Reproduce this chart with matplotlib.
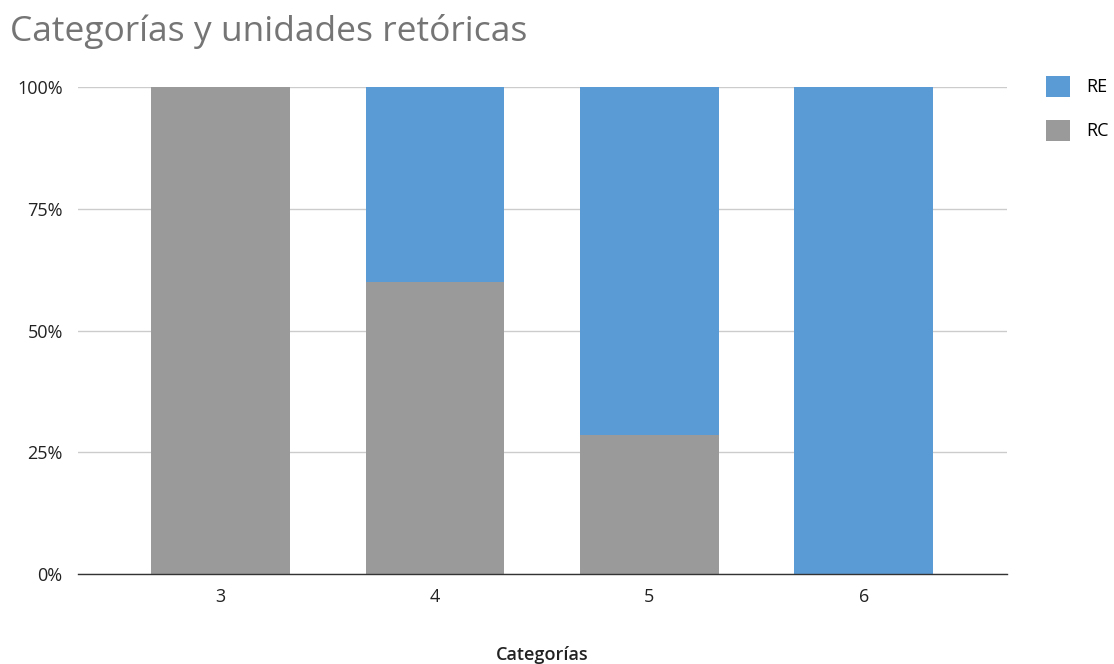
import matplotlib.pyplot as plt

plt.rcParams['font.family'] = ['Open Sans', 'DejaVu Sans']

categories = ['3', '4', '5', '6']
rc_values = [100.0, 60.0, 28.57, 0.0]
re_values = [0.0, 40.0, 71.43, 100.0]

blue = '#5b9bd5'
grey = '#9a9a9a'

fig = plt.figure(figsize=(11.14, 6.64), dpi=100)
ax = fig.add_axes([0.070, 0.1355, 0.834, 0.7335])

x = range(len(categories))
ax.bar(x, rc_values, width=0.648, color=grey, label='RC', zorder=3)
ax.bar(x, re_values, width=0.648, bottom=rc_values, color=blue, label='RE', zorder=3)

ax.set_xlim(-0.665, 3.668)
ax.set_ylim(0, 100)
ax.set_yticks([0, 25, 50, 75, 100])
ax.set_yticklabels(['0%', '25%', '50%', '75%', '100%'])
ax.set_xticks(list(x))
ax.set_xticklabels(categories)
ax.tick_params(axis='both', length=0, labelsize=13, colors='#222222')
ax.tick_params(axis='y', pad=11)
ax.tick_params(axis='x', pad=10)

ax.grid(axis='y', color='#cccccc', linewidth=1, zorder=0)
for side in ['top', 'right', 'left']:
    ax.spines[side].set_visible(False)
ax.spines['bottom'].set_color('#333333')
ax.spines['bottom'].set_linewidth(1)
ax.spines['bottom'].set_zorder(4)

# axis title sits near the bottom edge
fig.text(0.487, 0.013, 'Categorías', fontsize=13, fontweight='semibold', color='#222222',
         ha='center', va='center')

fig.text(0.009, 0.953, 'Categorías y unidades retóricas', fontsize=25.5, color='#757575',
         va='center', ha='left')

handles, labels = ax.get_legend_handles_labels()
leg = fig.legend(handles[::-1], labels[::-1], loc='upper left', bbox_to_anchor=(0.939, 0.886),
                 frameon=False, fontsize=13, handlelength=1.33, handleheight=1.4,
                 labelspacing=1.3, handletextpad=0.9, borderpad=0, borderaxespad=0)

fig.savefig('out.png', dpi=100)
